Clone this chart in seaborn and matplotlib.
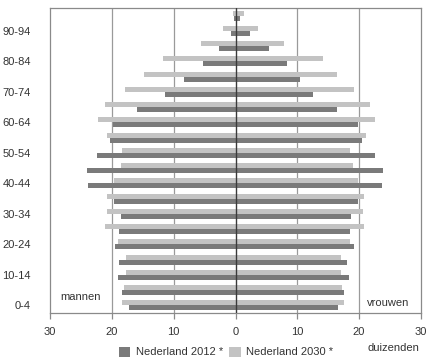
import pandas as pd
import matplotlib.pyplot as plt
import seaborn as sns
from matplotlib.patches import Patch

# Leeftijdsgroepen van jong naar oud
ages = ["0-4", "5-9", "10-14", "15-19", "20-24", "25-29", "30-34", "35-39",
        "40-44", "45-49", "50-54", "55-59", "60-64", "65-69", "70-74",
        "75-79", "80-84", "85-89", "90-94", "95+"]

# Aantallen in duizenden
men_2012 = [17.3, 18.3, 19.0, 18.8, 19.5, 18.8, 18.6, 19.6, 23.8, 24.1,
            22.5, 20.3, 19.8, 15.9, 11.4, 8.3, 5.3, 2.6, 0.8, 0.2]
men_2030 = [18.4, 18.1, 17.7, 17.7, 19.0, 21.1, 20.8, 20.8, 19.7, 18.6,
            18.3, 20.8, 22.2, 21.1, 17.9, 14.8, 11.8, 5.6, 2.1, 0.4]
women_2012 = [16.6, 17.6, 18.4, 18.0, 19.2, 18.5, 18.7, 19.8, 23.7, 23.9,
              22.5, 20.5, 19.8, 16.5, 12.6, 10.5, 8.3, 5.4, 2.3, 0.65]
women_2030 = [17.6, 17.3, 17.0, 17.0, 18.5, 20.8, 20.6, 20.8, 19.8, 19.0,
              18.6, 21.2, 22.6, 21.8, 19.1, 16.5, 14.2, 7.8, 3.6, 1.3]

years = ["Nederland 2012 *", "Nederland 2030 *"]
colors = {"Nederland 2012 *": "#7a7a7a", "Nederland 2030 *": "#c3c3c3"}

rows = []
for i, age in enumerate(ages):
    rows.append((age, "man", years[0], -men_2012[i]))
    rows.append((age, "man", years[1], -men_2030[i]))
    rows.append((age, "vrouw", years[0], women_2012[i]))
    rows.append((age, "vrouw", years[1], women_2030[i]))
df = pd.DataFrame(rows, columns=["age", "sex", "year", "value"])

sns.set_theme(style="white")
plt.rcParams["font.family"] = ["Liberation Sans", "DejaVu Sans"]
text_color = "#333333"

fig = plt.figure(figsize=(4.29, 3.61), dpi=100)
ax = fig.add_axes([0.117, 0.133, 0.864, 0.845])

order = ages[::-1]
hue_order = [years[1], years[0]]  # 2030 boven, 2012 onder
for sex in ["man", "vrouw"]:
    sns.barplot(data=df[df["sex"] == sex], x="value", y="age", hue="year",
                order=order, hue_order=hue_order, palette=colors,
                orient="h", width=0.66, saturation=1, edgecolor="none",
                legend=False, ax=ax, zorder=2)

# Rasterlijnen
for v in [-20, -10, 10, 20]:
    ax.axvline(v, color="#9a9a9a", lw=0.9, zorder=0)
ax.axvline(0, color="#3a3a3a", lw=1.0, zorder=3)

ax.set_xlim(-30, 30)
ax.set_ylim(len(ages) - 0.5, -0.5)
ticks = [-30, -20, -10, 0, 10, 20, 30]
ax.set_xticks(ticks)
ax.set_xticklabels([str(abs(t)) for t in ticks])
ypos = [order.index(a) for a in ages[::2]]
ax.set_yticks(ypos)
ax.set_yticklabels(ages[::2])
ax.set_xlabel("")
ax.set_ylabel("")

for s in ax.spines.values():
    s.set_color("#8a8a8a")
    s.set_linewidth(0.9)
ax.tick_params(axis="x", bottom=True, direction="out", length=4, width=0.9,
               color="#8a8a8a", pad=6, labelsize=8, labelcolor=text_color)
ax.tick_params(axis="y", left=False, pad=8, labelsize=8, labelcolor=text_color)

ax.text(0.026, 0.052, "mannen", transform=ax.transAxes, fontsize=8,
        color=text_color, ha="left", va="center")
ax.text(0.855, 0.034, "vrouwen", transform=ax.transAxes, fontsize=8,
        color=text_color, ha="left", va="center")
fig.text(0.918, 0.036, "duizenden", fontsize=8, color=text_color,
         ha="center", va="center")

handles = [Patch(facecolor=colors[y], edgecolor="none", label=y) for y in years]
fig.legend(handles=handles, loc="center", bbox_to_anchor=(0.527, 0.025),
           ncol=2, frameon=False, fontsize=8, handlelength=1.0,
           handleheight=1.0, handletextpad=0.5, columnspacing=0.6,
           labelcolor=text_color)

fig.savefig("out.png", dpi=100)
